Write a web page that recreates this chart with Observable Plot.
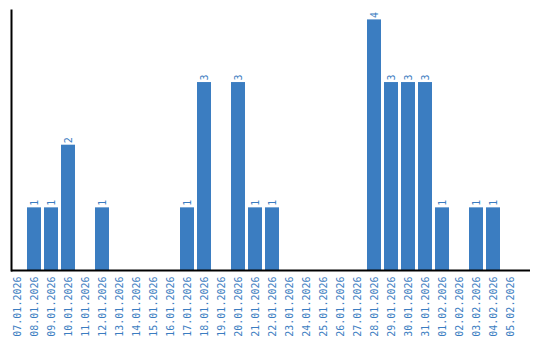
<!DOCTYPE html>
<html>
<head>
<meta charset="utf-8">
<script src="https://cdn.jsdelivr.net/npm/d3@7"></script>
<script src="https://cdn.jsdelivr.net/npm/@observablehq/plot@0.6"></script>
<style>
  html, body { margin: 0; padding: 0; background: #fff; }
  svg { display: block; }
</style>
</head>
<body>
<div id="chart"></div>
<script>
const dates = ["07.01.2026","08.01.2026","09.01.2026","10.01.2026","11.01.2026","12.01.2026","13.01.2026","14.01.2026","15.01.2026","16.01.2026","17.01.2026","18.01.2026","19.01.2026","20.01.2026","21.01.2026","22.01.2026","23.01.2026","24.01.2026","25.01.2026","26.01.2026","27.01.2026","28.01.2026","29.01.2026","30.01.2026","31.01.2026","01.02.2026","02.02.2026","03.02.2026","04.02.2026","05.02.2026"];
const counts = [0,1,1,2,0,1,0,0,0,0,1,3,0,3,1,1,0,0,0,0,0,4,3,3,3,1,0,1,1,0];

const blue = "#3b7dc1";
const data = dates.map((d, i) => ({date: d, count: counts[i]}));
const nonZero = data.filter(d => d.count > 0);

const chart = Plot.plot({
  width: 540,
  height: 340,
  marginTop: 10,
  marginBottom: 70,
  marginLeft: 11,
  marginRight: 10,
  style: {fontFamily: "'DejaVu Sans Mono', monospace", fontSize: "10px", background: "#fff"},
  x: {domain: dates, type: "band", range: [8.5, 518.5], paddingInner: 3/17, paddingOuter: 3/34},
  y: {domain: [0, 4.15], axis: null},
  marks: [
    Plot.barY(data, {x: "date", y: "count", fill: blue}),
    Plot.text(nonZero, {x: "date", y: "count", text: d => String(d.count), rotate: -90, textAnchor: "start", dy: -2, fill: blue, fontSize: 10}),
    Plot.axisX({tickSize: 0, tickPadding: 6, tickRotate: -90, color: blue, fontSize: 10, label: null}),
    Plot.ruleY([0], {stroke: "#000", strokeWidth: 2}),
    Plot.frame({anchor: "left", stroke: "#000", strokeWidth: 2})
  ]
});
document.getElementById("chart").appendChild(chart);
</script>
</body>
</html>
